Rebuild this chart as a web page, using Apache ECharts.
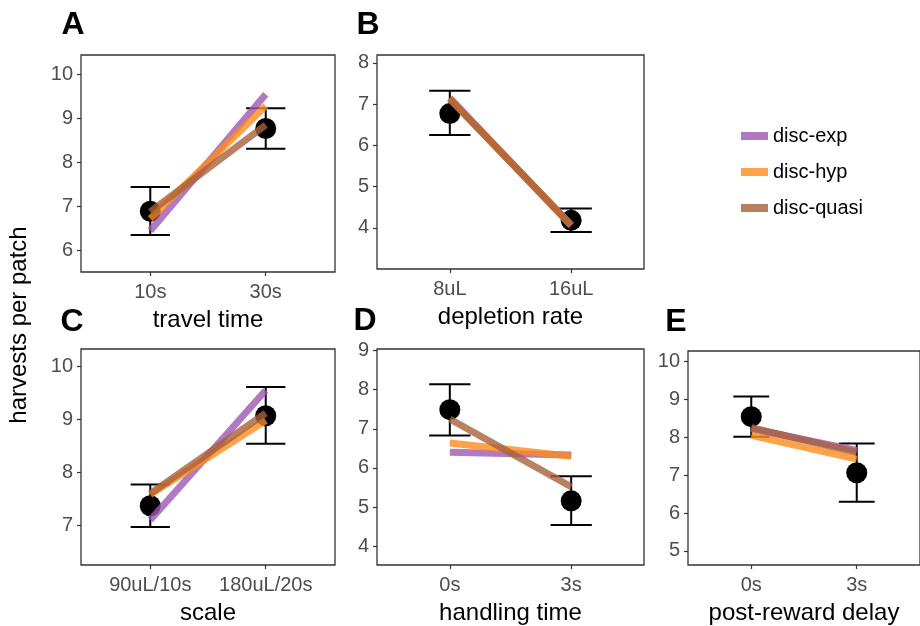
<!DOCTYPE html>
<html>
<head>
<meta charset="utf-8">
<script src="https://cdn.jsdelivr.net/npm/echarts@6/dist/echarts.min.js"></script>
<style>
  html, body { margin: 0; padding: 0; background: #fff; }
  #chart { width: 920px; height: 626px; }
</style>
</head>
<body>
<div id="chart"></div>
<script>
// values
var panelLetters = ['A', 'B', 'C', 'D', 'E'];
var xTitles = ['travel time', 'depletion rate', 'scale', 'handling time', 'post-reward delay'];
var xCategories = [['10s', '30s'], ['8uL', '16uL'], ['90uL/10s', '180uL/20s'], ['0s', '3s'], ['0s', '3s']];
var yTicks = [[6, 7, 8, 9, 10], [4, 5, 6, 7, 8], [7, 8, 9, 10], [4, 5, 6, 7, 8, 9], [5, 6, 7, 8, 9, 10]];

var obsMean = [[6.89, 8.77], [6.77, 4.18], [7.37, 9.07], [7.49, 5.16], [8.54, 7.06]];
var obsLow  = [[6.35, 8.31], [6.25, 3.90], [6.97, 8.54], [6.83, 4.54], [8.01, 6.30]];
var obsHigh = [[7.44, 9.23], [7.32, 4.47], [7.77, 9.61], [8.14, 5.79], [9.07, 7.83]];

var modelNames = ['disc-exp', 'disc-hyp', 'disc-quasi'];
var discExp   = [[6.45, 9.55], [7.15, 4.05], [7.10, 9.55], [6.40, 6.33], [8.22, 7.65]];
var discHyp   = [[6.72, 9.28], [7.13, 4.06], [7.58, 8.98], [6.64, 6.30], [8.05, 7.42]];
var discQuasi = [[6.88, 8.85], [7.12, 4.07], [7.60, 9.12], [7.25, 5.52], [8.25, 7.60]];
var modelValues = [discExp, discHyp, discQuasi];

// layout
var modelColors = ['#9e57b3', '#ff8c1a', '#a8603a'];
var legendColors = ['#b178c2', '#ffa348', '#b9805f'];
var grids = [
    {left: 81,  top: 55,  width: 254, height: 217, ymin: 5.51, ymax: 10.44},
    {left: 377, top: 55,  width: 267, height: 214, ymin: 3.0,  ymax: 8.19},
    {left: 81,  top: 349, width: 254, height: 218, ymin: 6.25, ymax: 10.33},
    {left: 377, top: 349, width: 267, height: 217, ymin: 3.52, ymax: 9.04},
    {left: 688, top: 351, width: 242, height: 217, ymin: 4.63, ymax: 10.27}
];
var letterPos = [[73, 25], [368, 25], [72, 322], [365, 321], [676, 322]];
var font = 'Liberation Sans';

var myChart = echarts.init(document.getElementById('chart'));

var gridOpts = [], xAxes = [], yAxes = [], series = [], graphics = [];

grids.forEach(function (g, i) {
    gridOpts.push({
        left: g.left, top: g.top, width: g.width, height: g.height,
        show: true, borderColor: '#333', borderWidth: 1.3, backgroundColor: '#fff'
    });
    xAxes.push({
        type: 'value', gridIndex: i, min: -0.6, max: 1.6,
        splitLine: {show: false},
        axisLine: {show: false, onZero: false},
        axisTick: {show: true, length: 4, lineStyle: {color: '#333', width: 1.2}, customValues: [0, 1]},
        axisLabel: {
            show: true, customValues: [0, 1], margin: 10,
            color: '#4d4d4d', fontSize: 20, fontFamily: font,
            formatter: (function (cats) { return function (v) { return cats[Math.round(v)]; }; })(xCategories[i])
        },
        name: xTitles[i], nameLocation: 'middle', nameGap: 36,
        nameTextStyle: {color: '#000', fontSize: 24, fontFamily: font}
    });
    yAxes.push({
        type: 'value', gridIndex: i, min: g.ymin, max: g.ymax,
        splitLine: {show: false},
        axisLine: {show: false, onZero: false},
        axisTick: {show: true, length: 4, lineStyle: {color: '#333', width: 1.2}, customValues: yTicks[i]},
        axisLabel: {
            show: true, customValues: yTicks[i], margin: 8,
            color: '#4d4d4d', fontSize: 20, fontFamily: font
        }
    });

    // error bars
    series.push({
        type: 'custom', xAxisIndex: i, yAxisIndex: i, z: 2,
        data: [[0, obsLow[i][0], obsHigh[i][0]], [1, obsLow[i][1], obsHigh[i][1]]],
        renderItem: function (params, api) {
            var lo = api.coord([api.value(0), api.value(1)]);
            var hi = api.coord([api.value(0), api.value(2)]);
            var hw = api.size([0.34, 0])[0] / 2;
            var st = {stroke: '#000', lineWidth: 2};
            return {
                type: 'group',
                children: [
                    {type: 'line', shape: {x1: lo[0], y1: lo[1], x2: hi[0], y2: hi[1]}, style: st},
                    {type: 'line', shape: {x1: lo[0] - hw, y1: lo[1], x2: lo[0] + hw, y2: lo[1]}, style: st},
                    {type: 'line', shape: {x1: hi[0] - hw, y1: hi[1], x2: hi[0] + hw, y2: hi[1]}, style: st}
                ]
            };
        }
    });
    // means
    series.push({
        type: 'scatter', xAxisIndex: i, yAxisIndex: i, z: 3,
        symbolSize: 21, itemStyle: {color: '#000', opacity: 1},
        data: [[0, obsMean[i][0]], [1, obsMean[i][1]]]
    });
    // model predictions
    modelNames.forEach(function (name, m) {
        series.push({
            type: 'line', name: name, xAxisIndex: i, yAxisIndex: i, z: 4 + m,
            symbol: 'none', color: modelColors[m],
            lineStyle: {width: 7, opacity: 0.8, cap: 'butt', color: modelColors[m]},
            data: [[0, modelValues[m][i][0]], [1, modelValues[m][i][1]]]
        });
    });

    graphics.push({
        type: 'text', x: letterPos[i][0], y: letterPos[i][1],
        style: {text: panelLetters[i], font: 'bold 32px ' + font, fill: '#000', textAlign: 'center', textVerticalAlign: 'middle'}
    });
});

graphics.push({
    type: 'text', x: 19, y: 325, rotation: Math.PI / 2,
    style: {text: 'harvests per patch', font: '24px ' + font, fill: '#000', textAlign: 'center', textVerticalAlign: 'middle'}
});

myChart.setOption({
    animation: false,
    backgroundColor: '#fff',
    grid: gridOpts,
    xAxis: xAxes,
    yAxis: yAxes,
    legend: {
        orient: 'vertical',
        left: 736,
        top: 121,
        icon: 'rect',
        itemWidth: 27,
        itemHeight: 8,
        itemGap: 16,
        textStyle: {color: '#000', fontSize: 20, fontFamily: font},
        data: modelNames.map(function (n, m) {
            return {name: n, itemStyle: {color: legendColors[m], opacity: 1}};
        })
    },
    graphic: graphics,
    series: series
});
</script>
</body>
</html>
